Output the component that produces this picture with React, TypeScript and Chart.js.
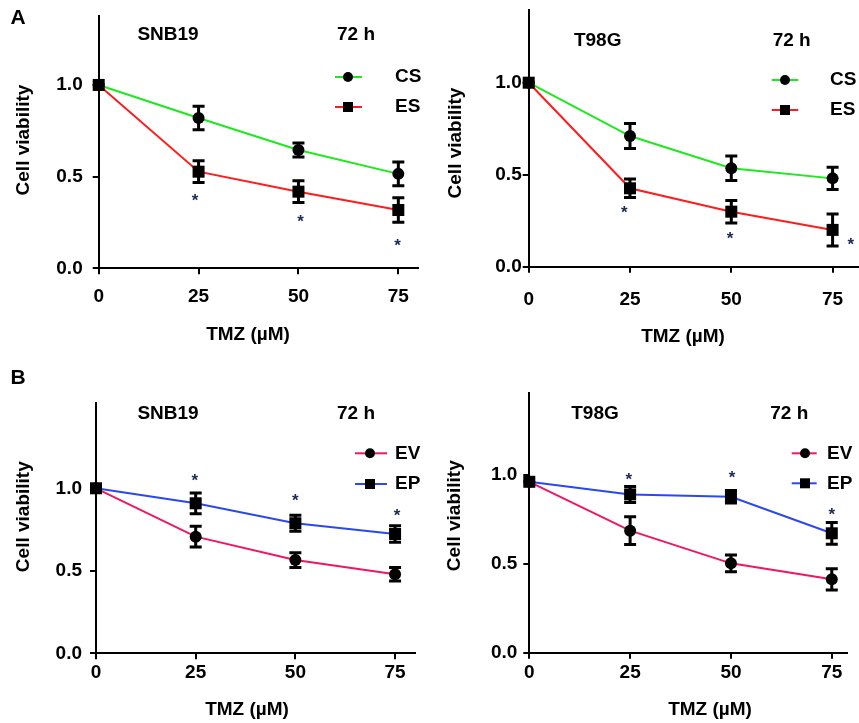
import React, { useEffect, useRef } from "react";
import { Chart, registerables } from "chart.js";

Chart.register(...registerables);

// ---------------- data ----------------
const DOSES = [0, 25, 50, 75];
const X_TICKS = [0, 25, 50, 75];
const Y_TICKS = [0, 0.5, 1.0];

// Panel A, SNB19
const A_SNB19_CS = [1.0, 0.82, 0.645, 0.515];
const A_SNB19_CS_ERR = [0, 0.064, 0.038, 0.065];
const A_SNB19_ES = [1.0, 0.527, 0.418, 0.318];
const A_SNB19_ES_ERR = [0, 0.059, 0.059, 0.067];
const A_SNB19_STAR_X = [24.1, 50.5, 74.8];
const A_SNB19_STAR_Y = [0.383, 0.269, 0.138];

// Panel A, T98G
const A_T98G_CS = [1.0, 0.71, 0.535, 0.48];
const A_T98G_CS_ERR = [0, 0.068, 0.066, 0.06];
const A_T98G_ES = [1.0, 0.426, 0.299, 0.2];
const A_T98G_ES_ERR = [0, 0.05, 0.061, 0.087];
const A_T98G_STAR_X = [23.6, 49.7, 79.5];
const A_T98G_STAR_Y = [0.307, 0.167, 0.13];

// Panel B, SNB19
const B_SNB19_EV = [1.0, 0.707, 0.565, 0.479];
const B_SNB19_EV_ERR = [0, 0.063, 0.045, 0.041];
const B_SNB19_EP = [1.0, 0.909, 0.788, 0.723];
const B_SNB19_EP_ERR = [0, 0.063, 0.048, 0.05];
const B_SNB19_STAR_X = [24.8, 50, 75.5];
const B_SNB19_STAR_Y = [1.06, 0.94, 0.848];

// Panel B, T98G
const B_T98G_EV = [0.962, 0.687, 0.503, 0.413];
const B_T98G_EV_ERR = [0, 0.078, 0.047, 0.06];
const B_T98G_EP = [0.962, 0.891, 0.878, 0.672];
const B_T98G_EP_ERR = [0, 0.045, 0.035, 0.061];
const B_T98G_STAR_X = [24.7, 50.3, 75];
const B_T98G_STAR_Y = [0.987, 1.0, 0.788];

// ---------------- styles / layout ----------------
const FONT = '"Liberation Sans", Arial, Helvetica, sans-serif';
const GREEN = "#1ee81e";
const RED = "#ff1c1c";
const PINK = "#ef1760";
const BLUE = "#2a48f0";
const STAR = "#1b2a55";

type Series = { name: string; values: number[]; err: number[]; color: string; shape: "circle" | "rect" };
type Panel = {
  left: number; top: number; w: number; h: number;
  area: { l: number; r: number; t: number; b: number };
  xMax: number; yMax: number;
  yPad: number; xPad: number;
  series: Series[];
  starX: number[]; starY: number[];
  letter?: { text: string; x: number; y: number };
  cell: { text: string; x: number; y: number };
  time: { x: number; y: number };
  legend: { x0: number; x1: number; mx: number; tx: number; y: number[] };
  xTitle: { x: number; y: number };
  yTitle: { x: number; y: number };
};

const PANELS: Panel[] = [
  {
    left: 0, top: 0, w: 430, h: 360,
    area: { l: 98.7, r: 418.3, t: 16, b: 268.3 },
    xMax: 80, yMax: 1.376, yPad: 10, xPad: 11,
    series: [
      { name: "CS", values: A_SNB19_CS, err: A_SNB19_CS_ERR, color: GREEN, shape: "circle" },
      { name: "ES", values: A_SNB19_ES, err: A_SNB19_ES_ERR, color: RED, shape: "rect" },
    ],
    starX: A_SNB19_STAR_X, starY: A_SNB19_STAR_Y,
    letter: { text: "A", x: 18, y: 18 },
    cell: { text: "SNB19", x: 168, y: 35 },
    time: { x: 356, y: 35 },
    legend: { x0: 335, x1: 362, mx: 348, tx: 395, y: [77, 107] },
    xTitle: { x: 248, y: 335 },
    yTitle: { x: 24, y: 140 },
  },
  {
    left: 430, top: 0, w: 429, h: 360,
    area: { l: 98.7, r: 428, t: 10, b: 266.7 },
    xMax: 81.27, yMax: 1.395, yPad: 1, xPad: 16,
    series: [
      { name: "CS", values: A_T98G_CS, err: A_T98G_CS_ERR, color: GREEN, shape: "circle" },
      { name: "ES", values: A_T98G_ES, err: A_T98G_ES_ERR, color: RED, shape: "rect" },
    ],
    starX: A_T98G_STAR_X, starY: A_T98G_STAR_Y,
    cell: { text: "T98G", x: 167.7, y: 41 },
    time: { x: 361.7, y: 41 },
    legend: { x0: 341.7, x1: 368.3, mx: 355, tx: 400, y: [80, 110] },
    xTitle: { x: 253, y: 337 },
    yTitle: { x: 26, y: 143 },
  },
  {
    left: 0, top: 360, w: 430, h: 363,
    area: { l: 96, r: 415, t: 43.3, b: 293.3 },
    xMax: 80, yMax: 1.515, yPad: 8, xPad: 2,
    series: [
      { name: "EV", values: B_SNB19_EV, err: B_SNB19_EV_ERR, color: PINK, shape: "circle" },
      { name: "EP", values: B_SNB19_EP, err: B_SNB19_EP_ERR, color: BLUE, shape: "rect" },
    ],
    starX: B_SNB19_STAR_X, starY: B_SNB19_STAR_Y,
    letter: { text: "B", x: 18, y: 18 },
    cell: { text: "SNB19", x: 168, y: 53.3 },
    time: { x: 356, y: 53.3 },
    legend: { x0: 355, x1: 387, mx: 370, tx: 395, y: [93.3, 124] },
    xTitle: { x: 247, y: 350 },
    yTitle: { x: 24, y: 156.7 },
  },
  {
    left: 430, top: 360, w: 429, h: 363,
    area: { l: 99.3, r: 416.7, t: 33.3, b: 292.7 },
    xMax: 78.7, yMax: 1.46, yPad: 6, xPad: 3,
    series: [
      { name: "EV", values: B_T98G_EV, err: B_T98G_EV_ERR, color: PINK, shape: "circle" },
      { name: "EP", values: B_T98G_EP, err: B_T98G_EP_ERR, color: BLUE, shape: "rect" },
    ],
    starX: B_T98G_STAR_X, starY: B_T98G_STAR_Y,
    cell: { text: "T98G", x: 165, y: 53.3 },
    time: { x: 359.3, y: 53.3 },
    legend: { x0: 361.7, x1: 386.7, mx: 375, tx: 397, y: [93.3, 123.3] },
    xTitle: { x: 280, y: 350 },
    yTitle: { x: 25, y: 155.7 },
  },
];

const TICK_LEN = 6;
const X_AXIS_H = 40;

function drawMarker(ctx: CanvasRenderingContext2D, shape: string, x: number, y: number, big: boolean) {
  ctx.fillStyle = "#000";
  if (shape === "circle") {
    ctx.beginPath();
    ctx.arc(x, y, big ? 6 : 5, 0, Math.PI * 2);
    ctx.fill();
  } else {
    const h = big ? 6 : 5;
    ctx.fillRect(x - h, y - h, 2 * h, 2 * h);
  }
}

function makePlugin(p: Panel) {
  return {
    id: "annot",
    afterDatasetsDraw(chart: any) {
      const ctx: CanvasRenderingContext2D = chart.ctx;
      const xs = chart.scales.x;
      const ys = chart.scales.y;
      ctx.save();
      // error bars
      ctx.strokeStyle = "#000";
      ctx.lineWidth = 3;
      p.series.forEach((s) => {
        DOSES.forEach((d, i) => {
          const e = s.err[i];
          if (!e) return;
          const x = xs.getPixelForValue(d);
          const y1 = ys.getPixelForValue(s.values[i] + e);
          const y2 = ys.getPixelForValue(s.values[i] - e);
          ctx.beginPath();
          ctx.moveTo(x, y1);
          ctx.lineTo(x, y2);
          ctx.moveTo(x - 6, y1);
          ctx.lineTo(x + 6, y1);
          ctx.moveTo(x - 6, y2);
          ctx.lineTo(x + 6, y2);
          ctx.stroke();
        });
      });
      // markers on top
      p.series.forEach((s) => {
        DOSES.forEach((d, i) => {
          drawMarker(ctx, s.shape, xs.getPixelForValue(d), ys.getPixelForValue(s.values[i]), true);
        });
      });
      // asterisks
      ctx.fillStyle = STAR;
      ctx.font = `bold 17px ${FONT}`;
      ctx.textAlign = "center";
      ctx.textBaseline = "middle";
      p.starX.forEach((sx, i) => {
        ctx.fillText("*", xs.getPixelForValue(sx), ys.getPixelForValue(p.starY[i]) + 3);
      });
      // texts
      ctx.fillStyle = "#000";
      ctx.font = `bold 19px ${FONT}`;
      ctx.fillText(p.cell.text, p.cell.x, p.cell.y);
      ctx.fillText("72 h", p.time.x, p.time.y);
      if (p.letter) {
        ctx.font = `bold 21px ${FONT}`;
        ctx.fillText(p.letter.text, p.letter.x, p.letter.y);
        ctx.font = `bold 19px ${FONT}`;
      }
      ctx.fillText("TMZ (\u00b5M)", p.xTitle.x, p.xTitle.y);
      ctx.save();
      ctx.translate(p.yTitle.x, p.yTitle.y);
      ctx.rotate(-Math.PI / 2);
      ctx.fillText("Cell viability", 0, 0);
      ctx.restore();
      // legend
      p.series.forEach((s, i) => {
        const y = p.legend.y[i];
        ctx.strokeStyle = s.color;
        ctx.lineWidth = 2;
        ctx.beginPath();
        ctx.moveTo(p.legend.x0, y);
        ctx.lineTo(p.legend.x1, y);
        ctx.stroke();
        drawMarker(ctx, s.shape, p.legend.mx, y, false);
        ctx.fillStyle = "#000";
        ctx.textAlign = "left";
        ctx.font = `bold 19px ${FONT}`;
        ctx.fillText(s.name, p.legend.tx, y);
      });
      ctx.restore();
    },
  };
}

function makeConfig(p: Panel): any {
  const a = p.area;
  const tickFont = { family: FONT, size: 19, weight: "bold" as const };
  const grid = {
    drawOnChartArea: false,
    drawTicks: true,
    tickLength: TICK_LEN,
    color: "#000",
    lineWidth: 2,
  };
  const border = { display: true, color: "#000", width: 2 };
  return {
    type: "line",
    data: {
      datasets: p.series.map((s) => ({
        label: s.name,
        data: DOSES.map((d, i) => ({ x: d, y: s.values[i] })),
        borderColor: s.color,
        borderWidth: 2,
        pointRadius: 0,
        tension: 0,
        fill: false,
        clip: false,
      })),
    },
    options: {
      animation: false,
      responsive: false,
      events: [],
      layout: {
        padding: {
          left: 0,
          top: a.t,
          right: p.w - a.r,
          bottom: p.h - a.b - X_AXIS_H,
        },
      },
      plugins: { legend: { display: false }, tooltip: { enabled: false }, title: { display: false } },
      scales: {
        x: {
          type: "linear",
          min: 0,
          max: p.xMax,
          afterBuildTicks: (s: any) => {
            s.ticks = X_TICKS.map((v) => ({ value: v }));
          },
          afterFit: (s: any) => {
            s.height = X_AXIS_H;
            s.paddingLeft = 0;
            s.paddingRight = 0;
            s.paddingTop = 0;
            s.paddingBottom = 0;
          },
          ticks: {
            font: tickFont,
            color: "#000",
            padding: p.xPad,
            maxRotation: 0,
            autoSkip: false,
            callback: (v: number) => String(v),
          },
          grid,
          border,
        },
        y: {
          type: "linear",
          min: 0,
          max: p.yMax,
          afterBuildTicks: (s: any) => {
            s.ticks = Y_TICKS.map((v) => ({ value: v }));
          },
          afterFit: (s: any) => {
            s.width = a.l;
            s.paddingLeft = 0;
            s.paddingRight = 0;
            s.paddingTop = 0;
            s.paddingBottom = 0;
          },
          ticks: {
            font: tickFont,
            color: "#000",
            padding: p.yPad,
            autoSkip: false,
            callback: (v: number) => v.toFixed(1),
          },
          grid,
          border,
        },
      },
    },
    plugins: [makePlugin(p)],
  };
}

function PanelChart({ p }: { p: Panel }) {
  const ref = useRef<HTMLCanvasElement | null>(null);
  useEffect(() => {
    if (!ref.current) return;
    const chart = new Chart(ref.current, makeConfig(p));
    return () => chart.destroy();
  }, [p]);
  return (
    <canvas
      ref={ref}
      width={p.w}
      height={p.h}
      style={{ position: "absolute", left: p.left, top: p.top, width: p.w, height: p.h }}
    />
  );
}

export default function App() {
  return (
    <div
      style={{
        position: "absolute",
        left: 0,
        top: 0,
        width: 859,
        height: 723,
        background: "#fff",
        overflow: "hidden",
      }}
    >
      {PANELS.map((p, i) => (
        <PanelChart key={i} p={p} />
      ))}
    </div>
  );
}
